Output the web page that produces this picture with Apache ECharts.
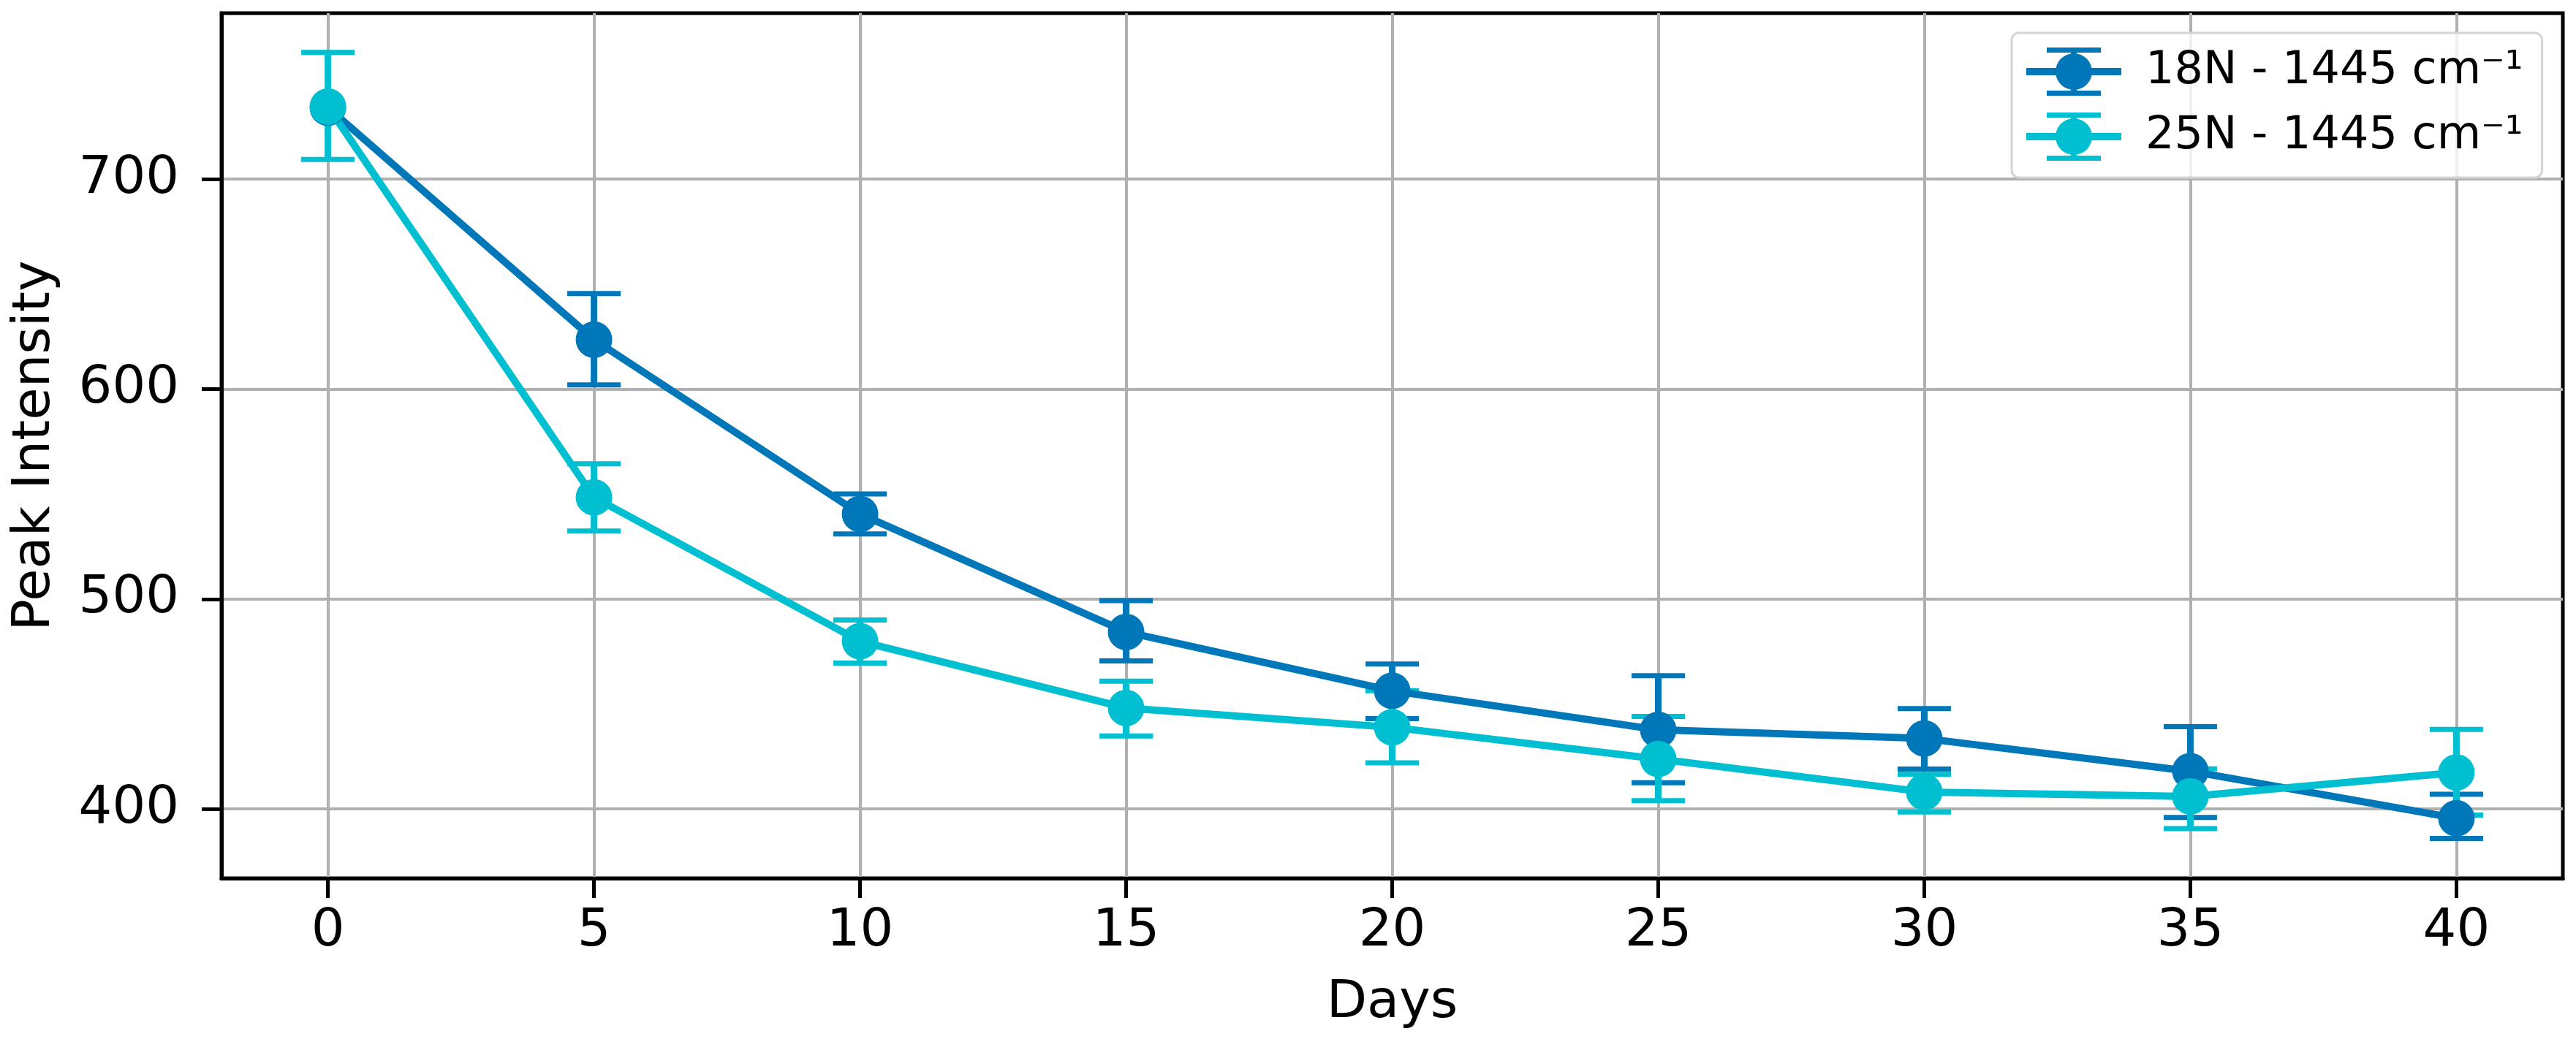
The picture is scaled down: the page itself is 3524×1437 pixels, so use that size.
<!DOCTYPE html>
<html>
<head>
<meta charset="utf-8">
<script src="https://cdn.jsdelivr.net/npm/echarts@6/dist/echarts.min.js"></script>
<style>
html,body{margin:0;padding:0;background:#fff;}
#chart{width:3524px;height:1437px;}
</style>
</head>
<body>
<div id="chart"></div>
<script>
// ---- data ----
const days = [0, 5, 10, 15, 20, 25, 30, 35, 40];
const xTicks = [0, 5, 10, 15, 20, 25, 30, 35, 40];
const yTicks = [400, 500, 600, 700];

const n18Name = '18N - 1445 cm\u207B\u00B9';
const n18Mean = [734, 623.5, 540.5, 484.3, 456.3, 437.7, 433.6, 418, 395.6];
const n18Low  = [null, 602, 531, 470.5, 443, 412.5, 419, 396, 386];
const n18High = [null, 645.5, 550, 499.2, 469, 463.5, 447.8, 439.2, 407];

const n25Name = '25N - 1445 cm\u207B\u00B9';
const n25Mean = [734.5, 548.4, 479.9, 448.1, 438.9, 423.8, 408.1, 406, 417.4];
const n25Low  = [709.3, 532.4, 469.5, 434.8, 422, 404, 398.6, 390.7, 397.1];
const n25High = [760.3, 564.4, 490, 460.9, 456.3, 444.1, 416.5, 419.1, 437.9];

// ---- style ----
const C18 = '#0077B8';
const C25 = '#00BFD1';
const FONT = 'DejaVu Sans';
const legendIcon = 'path://M0,28H130V38H0Z M40,33A25,25 0 1,1 90,33A25,25 0 1,1 40,33Z M61,0H69V66H61Z M28,0H102V7H28Z M28,59H102V66H28Z';

function errSeries(name, color, lo, hi) {
  const data = [];
  days.forEach((d, i) => { if (lo[i] != null && hi[i] != null) data.push([d, lo[i], hi[i]]); });
  return {
    name: name,
    type: 'custom',
    data: data,
    encode: { x: 0, y: [1, 2] },
    silent: true,
    renderItem: function (params, api) {
      const x = api.value(0);
      const pLo = api.coord([x, api.value(1)]);
      const pHi = api.coord([x, api.value(2)]);
      const cap = 36.5;
      return {
        type: 'group',
        children: [
          { type: 'line', shape: { x1: pLo[0], y1: pLo[1], x2: pHi[0], y2: pHi[1] }, style: { stroke: color, lineWidth: 9 } },
          { type: 'line', shape: { x1: pLo[0] - cap, y1: pLo[1], x2: pLo[0] + cap, y2: pLo[1] }, style: { stroke: color, lineWidth: 7 } },
          { type: 'line', shape: { x1: pHi[0] - cap, y1: pHi[1], x2: pHi[0] + cap, y2: pHi[1] }, style: { stroke: color, lineWidth: 7 } }
        ]
      };
    }
  };
}

function lineSeries(name, color, vals) {
  return {
    name: name,
    type: 'line',
    data: days.map((d, i) => [d, vals[i]]),
    symbol: 'circle',
    symbolSize: 50,
    showSymbol: true,
    lineStyle: { color: color, width: 10 },
    itemStyle: { color: color },
    emphasis: { disabled: true }
  };
}

const chart = echarts.init(document.getElementById('chart'), null, { renderer: 'canvas' });
chart.setOption({
  animation: false,
  backgroundColor: '#ffffff',
  textStyle: { fontFamily: FONT },
  grid: {
    left: 303, right: 18, top: 18, bottom: 235,
    containLabel: false,
    outerBoundsMode: 'none',
    show: true,
    borderColor: '#000000',
    borderWidth: 5,
    backgroundColor: 'transparent'
  },
  legend: {
    data: [n18Name, n25Name],
    left: 2752,
    top: 45,
    orient: 'vertical',
    itemWidth: 130,
    itemHeight: 66,
    itemGap: 23,
    padding: [20, 26, 23, 20],
    backgroundColor: 'rgba(255,255,255,0.8)',
    borderColor: '#d4d4d4',
    borderWidth: 3,
    borderRadius: 10,
    icon: legendIcon,
    textStyle: { fontFamily: FONT, fontSize: 62, color: '#000', padding: [0, 0, 0, 28], lineHeight: 66 },
    selectedMode: false
  },
  xAxis: {
    type: 'value',
    min: -2,
    max: 42,
    name: 'Days',
    nameLocation: 'middle',
    nameGap: 135,
    nameTextStyle: { fontFamily: FONT, fontSize: 72, color: '#000' },
    axisLine: { show: true, onZero: false, lineStyle: { color: '#000', width: 5 } },
    axisTick: { show: true, inside: false, length: 27, lineStyle: { color: '#000', width: 5 }, customValues: xTicks },
    axisLabel: { show: true, margin: 37, fontFamily: FONT, fontSize: 72, color: '#000', customValues: xTicks, showMinLabel: true, showMaxLabel: true },
    splitLine: { show: true, lineStyle: { color: '#b0b0b0', width: 4 } }
  },
  yAxis: {
    type: 'value',
    min: 367,
    max: 779,
    name: 'Peak Intensity',
    nameLocation: 'middle',
    nameGap: 219,
    nameTextStyle: { fontFamily: FONT, fontSize: 72, color: '#000' },
    axisLine: { show: true, onZero: false, lineStyle: { color: '#000', width: 5 } },
    axisTick: { show: true, inside: false, length: 27, lineStyle: { color: '#000', width: 5 }, customValues: yTicks },
    axisLabel: { show: true, margin: 58, fontFamily: FONT, fontSize: 72, color: '#000', customValues: yTicks },
    splitLine: { show: true, lineStyle: { color: '#b0b0b0', width: 4 } }
  },
  series: [
    errSeries('18N err', C18, n18Low, n18High),
    lineSeries(n18Name, C18, n18Mean),
    errSeries('25N err', C25, n25Low, n25High),
    lineSeries(n25Name, C25, n25Mean)
  ]
});
</script>
</body>
</html>
